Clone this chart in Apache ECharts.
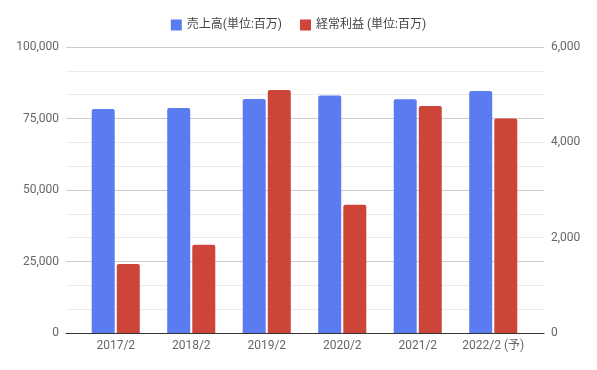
<!DOCTYPE html>
<html><head><meta charset="utf-8">
<script src="https://cdn.jsdelivr.net/npm/echarts@6/dist/echarts.min.js"></script>
<style>html,body{margin:0;padding:0;background:#fff}#c{width:597px;height:370px}</style>
</head><body><div id="c"></div>
<script>
const categories = ['2017/2', '2018/2', '2019/2', '2020/2', '2021/2', '2022/2 (予)'];
const salesName = '売上高(単位:百万)';
const profitName = '経常利益 (単位:百万)';
const sales = [78300, 78700, 81800, 83000, 81700, 84600];
const profit = [1450, 1850, 5100, 2690, 4760, 4500];
const leftTicks = [0, 25000, 50000, 75000, 100000];
const rightTicks = [0, 2000, 4000, 6000];

const chart = echarts.init(document.getElementById('c'), null, {renderer: 'canvas'});
const font = 'Roboto, "Noto Sans CJK JP", sans-serif';
const fmt = v => v.toLocaleString('en-US');
chart.setOption({
  animation: false,
  textStyle: {fontFamily: font},
  legend: {
    top: 14, left: 'center', icon: 'rect', itemWidth: 11, itemHeight: 11, itemGap: 18,
    textStyle: {fontSize: 12, color: '#444', fontFamily: font},
    data: [salesName, profitName]
  },
  grid: [
    {left: 66, right: 53, top: 47, bottom: 37},
    {left: 78, right: 66, top: 47, bottom: 37}
  ],
  xAxis: [
    {type: 'category', gridIndex: 0, data: categories, axisLine: {show: true, lineStyle: {color: '#333', width: 1}},
     axisTick: {show: false}, axisLabel: {show: false}, splitLine: {show: false}},
    {type: 'category', gridIndex: 1, data: categories, axisLine: {show: false}, axisTick: {show: false},
     axisLabel: {interval: 0, color: '#666', fontSize: 12, margin: 7, fontFamily: font}}
  ],
  yAxis: [
    {type: 'value', gridIndex: 0, position: 'left', min: leftTicks[0], max: leftTicks[leftTicks.length - 1], interval: 25000,
     axisLine: {show: false}, axisTick: {show: false},
     axisLabel: {color: '#666', fontSize: 12, margin: 7, formatter: fmt, fontFamily: font},
     splitLine: {show: true, lineStyle: {color: '#cccccc', width: 1}},
     minorTick: {show: false, splitNumber: 3},
     minorSplitLine: {show: true, lineStyle: {color: '#ebebeb', width: 1}}},
    {type: 'value', gridIndex: 0, position: 'right', min: rightTicks[0], max: rightTicks[rightTicks.length - 1], interval: 2000,
     axisLine: {show: false}, axisTick: {show: false},
     axisLabel: {color: '#666', fontSize: 12, margin: 7, formatter: fmt, fontFamily: font},
     splitLine: {show: false}},
    {type: 'value', gridIndex: 1, min: 0, max: 100000, show: false, splitLine: {show: false}},
    {type: 'value', gridIndex: 1, min: 0, max: 6000, show: false, splitLine: {show: false}}
  ],
  series: [
    {name: salesName, type: 'bar', xAxisIndex: 1, yAxisIndex: 2, data: sales, barWidth: 23, barGap: '9%',
     itemStyle: {color: '#5b7cf0', borderRadius: [2, 2, 0, 0]}},
    {name: profitName, type: 'bar', xAxisIndex: 1, yAxisIndex: 3, data: profit, barWidth: 23, barGap: '9%',
     itemStyle: {color: '#cd4439', borderRadius: [2, 2, 0, 0]}}
  ]
});
</script></body></html>
